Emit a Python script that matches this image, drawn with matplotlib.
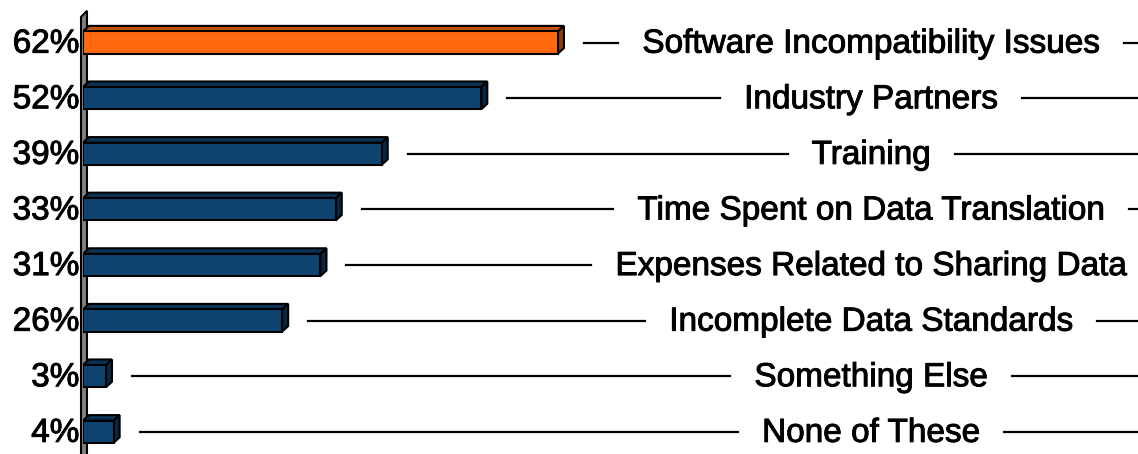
import numpy as np
import matplotlib
matplotlib.use('Agg')
import matplotlib.pyplot as plt
import matplotlib.patheffects as pe
from matplotlib.patches import Polygon, Rectangle

# data, top to bottom
categories = ['Software Incompatibility Issues', 'Industry Partners', 'Training',
              'Time Spent on Data Translation', 'Expenses Related to Sharing Data',
              'Incomplete Data Standards', 'Something Else', 'None of These']
values = [62, 52, 39, 33, 31, 26, 3, 4]
value_labels = ['62%', '52%', '39%', '33%', '31%', '26%', '3%', '4%']
highlight = [True, False, False, False, False, False, False, False]

plt.rcParams['font.family'] = ['Liberation Sans', 'DejaVu Sans']

W, H = 1138, 454
fig = plt.figure(figsize=(W / 100, H / 100), dpi=100)
x0 = 83  # pixel where the value axis starts
ax = fig.add_axes([x0 / W, 0, 1 - x0 / W, 1])
pxx = 7.66   # pixels per percent
pxy = 55.6   # pixels per row
ax.set_xlim(0, (W - x0) / pxx)
ax.set_ylim((H - 42.5) / pxy, -42.5 / pxy)
ax.axis('off')

dx = 6 / pxx   # depth of the 3d bars
dy = 5.5 / pxy
bh = 0.40
bold = [pe.withStroke(linewidth=0.7, foreground='black')]

# gray wall
wall = Polygon([(-0.26, 8), (-0.26, -0.46), (0.52, -0.57), (0.52, 8)], closed=True,
               facecolor='#808080', edgecolor='black', lw=1.5, clip_on=False, zorder=1)
ax.add_patch(wall)

for i, (v, hl) in enumerate(zip(values, highlight)):
    if hl:
        front, top, side = '#FF6A10', '#C4520A', '#8E3C06'
    else:
        front, top, side = '#0F4470', '#0B3356', '#082842'
    yt = i - bh / 2
    yb = i + bh / 2
    ax.add_patch(Polygon([(0, yt), (dx, yt - dy), (v + dx, yt - dy), (v, yt)],
                         facecolor=top, edgecolor='black', lw=1.5, zorder=3))
    ax.add_patch(Polygon([(v, yt), (v + dx, yt - dy), (v + dx, yb - dy), (v, yb)],
                         facecolor=side, edgecolor='black', lw=1.5, zorder=3))
    ax.add_patch(Rectangle((0, yt), v, bh, facecolor=front, edgecolor='black',
                           lw=1.5, zorder=4))
    ax.text(-0.45, i + 0.03, value_labels[i], ha='right', va='center', fontsize=24,
            color='black', clip_on=False, path_effects=bold)

# category labels centred on the right, with leader lines either side
xc = 102.9
texts = []
for i, c in enumerate(categories):
    t = ax.text(xc, i + 0.03, c, ha='center', va='center', fontsize=24,
                color='black', path_effects=bold)
    texts.append(t)

fig.canvas.draw()
r = fig.canvas.get_renderer()
inv = ax.transData.inverted()
gap = 24 / pxx
xmax = ax.get_xlim()[1]
for i, t in enumerate(texts):
    bb = t.get_window_extent(r)
    xl = inv.transform((bb.x0, 0))[0]
    xr = inv.transform((bb.x1, 0))[0]
    ax.plot([values[i] + dx + 20 / pxx, xl - gap], [i, i], color='black', lw=1.6)
    ax.plot([xr + gap, xmax + 1], [i, i], color='black', lw=1.6)

fig.savefig('out.png', dpi=100)
